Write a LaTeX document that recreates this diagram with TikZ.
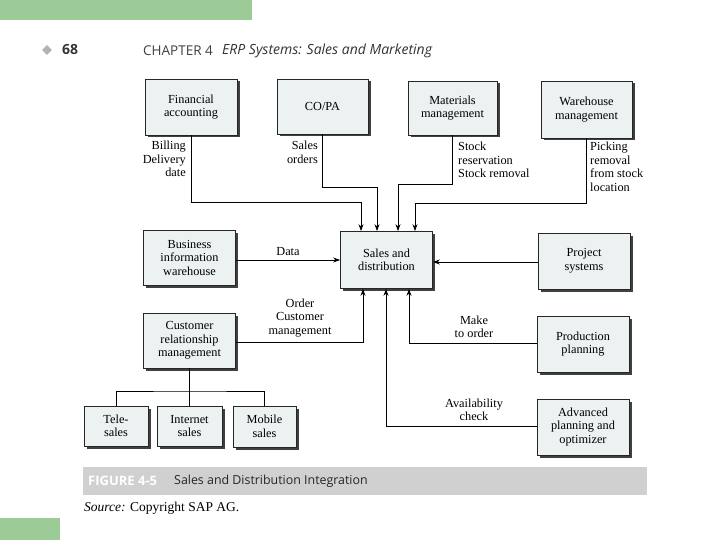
\documentclass[tikz,border=0pt]{standalone}
\usepackage{fontspec}
\setmainfont{Liberation Serif}
\newfontfamily\hdrfont{Open Sans}
\usetikzlibrary{shadows,arrows.meta,shapes.geometric}
\definecolor{boxfill}{RGB}{236,241,241}
\definecolor{greenbar}{RGB}{157,203,152}
\definecolor{capbar}{RGB}{208,208,208}
\tikzset{
 blk/.style={draw=black!85, line width=0.7pt, fill=boxfill, align=center,
   font=\fontsize{12.3}{13.5}\selectfont, inner sep=1pt,
   drop shadow={shadow xshift=2.5pt, shadow yshift=-2.5pt, fill=black!75, opacity=1}},
 conn/.style={line width=1pt, draw=black},
 arr/.style={conn, -{Stealth[length=7pt,width=5pt]}},
 lbl/.style={font=\fontsize{12.3}{13.5}\selectfont, inner sep=0pt}
}
\begin{document}
\begin{tikzpicture}[x=1pt,y=-1pt]
\useasboundingbox[fill=white] (0,0) rectangle (720,540);
% green bars
\fill[greenbar] (0,0) rectangle (252,20);
\fill[greenbar] (0,518) rectangle (60,540);
% header
\node[diamond, fill=black!30, inner sep=0pt, minimum size=10pt] (bul) at (47,50) {};
\node[anchor=west, inner sep=0pt, font=\hdrfont\bfseries\fontsize{14}{16}\selectfont, text=black!80] (pg) at (62,50) {68};
\node[anchor=west, inner sep=0pt, font=\hdrfont\fontsize{13.5}{16}\selectfont, text=black!75] (ch) at (143,51) {CHAPTER 4};
\node[anchor=west, inner sep=0pt, font=\hdrfont\itshape\fontsize{14}{16}\selectfont, text=black!80] (ti) at (222,51) {ERP Systems: Sales and Marketing};
% boxes
\node[blk, minimum width=92pt, minimum height=56pt] (fin) at (191,107) {Financial\\accounting};
\node[blk, minimum width=91pt, minimum height=55pt] (copa) at (322.5,106.5) {CO/PA};
\node[blk, minimum width=89pt, minimum height=54pt] (mm) at (452.5,108) {Materials\\management};
\node[blk, minimum width=91pt, minimum height=57pt] (wm) at (586.5,109.5) {Warehouse\\management};
\node[blk, minimum width=92pt, minimum height=55pt] (biw) at (189.5,257.5) {Business\\information\\warehouse};
\node[blk, minimum width=92pt, minimum height=57pt] (sd) at (386.5,260) {Sales and\\distribution};
\node[blk, minimum width=92pt, minimum height=56pt] (ps) at (584,261) {Project\\systems};
\node[blk, minimum width=92pt, minimum height=55pt] (crm) at (189.5,340.5) {Customer\\relationship\\management};
\node[blk, minimum width=92pt, minimum height=56pt] (pp) at (583,344) {Production\\planning};
\node[blk, minimum width=64pt, minimum height=40pt] (tele) at (116,426) {Tele-\\sales};
\node[blk, minimum width=65pt, minimum height=40pt] (inet) at (189.5,426) {Internet\\sales};
\node[blk, minimum width=63pt, minimum height=41pt] (mob) at (264.5,426.5) {Mobile\\sales};
\node[blk, minimum width=92pt, minimum height=56pt] (apo) at (583,427) {Advanced\\planning and\\optimizer};
% top connectors
\coordinate (c1) at (361,203);
\coordinate (c2) at (377,188);
\coordinate (c3) at (398,185);
\coordinate (c4) at (415,204);
\draw[arr] (fin.south) |- (c1) -- (c1 |- sd.north);
\draw[arr] (copa.south) |- (c2) -- (c2 |- sd.north);
\draw[arr] (mm.south) |- (c3) -- (c3 |- sd.north);
\draw[arr] (wm.south) |- (c4) -- (c4 |- sd.north);
\node[lbl, align=right, anchor=north east] (l1) at (186,141) {Billing\\Delivery\\date};
\node[lbl, align=right, anchor=north east] (l2) at (318,141) {Sales\\orders};
\node[lbl, align=left, anchor=north west] (l3) at (458,142) {Stock\\reservation\\Stock removal};
\node[lbl, align=left, anchor=north west] (l4) at (590,142) {Picking\\removal\\from stock\\location};
% side connectors
\draw[arr] (biw.east |- 0,260) -- (sd.west |- 0,260);
\node[lbl] (l5) at (288,252) {Data};
\draw[arr] (ps.west |- 0,262) -- (sd.east |- 0,262);
% bottom connectors
\coordinate (b1) at (363,342);
\coordinate (b2) at (386,426);
\coordinate (b3) at (409,343);
\draw[arr] (crm.east |- b1) -| (b1 |- sd.south);
\draw[arr] (apo.west |- b2) -| (b2 |- sd.south);
\draw[arr] (pp.west |- b3) -| (b3 |- sd.south);
\node[lbl, align=center, anchor=south] (l6) at (300,337) {Order\\Customer\\management};
\node[lbl, align=center, anchor=south] (l7) at (474,338) {Make\\to order};
\node[lbl, align=center, anchor=south] (l8) at (474,421) {Availability\\check};
% CRM tree
\coordinate (hb) at (189.5,391);
\draw[conn] (crm.south) -- (inet.north);
\draw[conn] (tele.north) |- (hb) -| (mob.north);
% caption
\fill[capbar] (83,467) rectangle (647,495);
\node[anchor=west, inner sep=0pt, text=white, font=\hdrfont\bfseries\fontsize{13}{15}\selectfont] (fg) at (88,481) {FIGURE 4-5};
\node[anchor=west, inner sep=0pt, font=\hdrfont\fontsize{12.4}{15}\selectfont, text=black!85] (cap) at (174,481) {Sales and Distribution Integration};
\node[anchor=west, inner sep=0pt, font=\fontsize{13.5}{15}\selectfont] (src) at (84,508) {\textit{Source:} Copyright SAP AG.};
\end{tikzpicture}
\end{document}
